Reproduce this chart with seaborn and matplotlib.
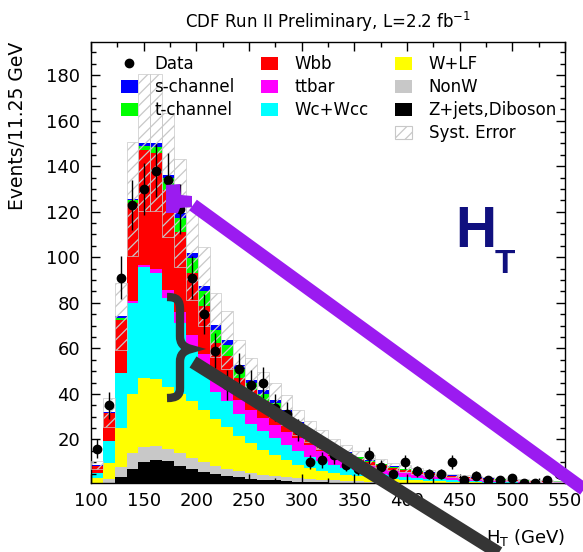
import numpy as np
import pandas as pd
import matplotlib
matplotlib.use("Agg")
import matplotlib.pyplot as plt
from matplotlib.patches import Patch, Polygon, PathPatch
from matplotlib.lines import Line2D
from matplotlib.path import Path
from matplotlib.ticker import MultipleLocator
import seaborn as sns

plt.rcParams["font.family"] = ["DejaVu Sans"]
plt.rcParams["hatch.linewidth"] = 0.9

# ---- binning: 40 bins of 11.25 GeV between 100 and 550 GeV ----
bin_edges = np.linspace(100.0, 550.0, 41)
bin_centers = 0.5 * (bin_edges[:-1] + bin_edges[1:])

# ---- expected events per bin, one array per process ----
zjets_diboson = [0.4, 1.0, 3.6, 7.0, 10.0, 11.0, 10.5, 8.5, 7.0, 5.8,
                 4.8, 4.0, 3.3, 2.8, 2.4, 2.0, 1.7, 1.5, 1.3, 1.1,
                 1.0, 0.9, 0.8, 0.7, 0.6, 0.5, 0.45, 0.4, 0.35, 0.3,
                 0.27, 0.24, 0.21, 0.19, 0.17, 0.15, 0.13, 0.12, 0.11, 0.10]
nonw = [0.6, 1.5, 4.4, 7.0, 6.5, 6.0, 5.5, 5.5, 5.0, 4.4,
        3.7, 3.2, 2.7, 2.4, 2.1, 1.9, 1.7, 1.5, 1.3, 1.2,
        1.0, 0.9, 0.8, 0.7, 0.6, 0.6, 0.55, 0.5, 0.45, 0.4,
        0.35, 0.31, 0.27, 0.24, 0.21, 0.19, 0.17, 0.15, 0.13, 0.12]
w_lf = [2.0, 7.0, 17.0, 26.0, 30.5, 29.5, 27.0, 26.0, 25.0, 22.8,
        20.5, 18.3, 15.5, 13.3, 11.0, 9.1, 7.6, 6.0, 4.9, 4.0,
        3.3, 2.7, 2.3, 2.0, 1.8, 1.6, 1.4, 1.2, 1.05, 0.9,
        0.78, 0.7, 0.62, 0.55, 0.49, 0.43, 0.39, 0.35, 0.31, 0.28]
wc_wcc = [2.4, 9.8, 24.0, 40.0, 48.5, 46.5, 39.3, 31.0, 23.0, 17.5,
          12.0, 11.5, 9.5, 8.2, 8.0, 7.7, 6.7, 6.0, 5.0, 4.2,
          3.5, 3.0, 2.5, 2.1, 1.8, 1.5, 1.3, 1.1, 0.95, 0.85,
          0.75, 0.65, 0.6, 0.52, 0.46, 0.41, 0.37, 0.33, 0.3, 0.28]
ttbar = [0.05, 0.1, 0.3, 0.6, 1.2, 2.0, 3.5, 5.0, 6.0, 7.0,
         7.0, 7.0, 6.5, 6.3, 6.0, 5.8, 5.5, 5.5, 5.0, 4.5,
         4.0, 3.5, 3.1, 2.8, 2.4, 2.1, 1.8, 1.6, 1.4, 1.2,
         1.05, 0.9, 0.8, 0.7, 0.62, 0.54, 0.49, 0.45, 0.4, 0.37]
wbb = [2.85, 12.0, 23.2, 43.4, 50.3, 50.7, 43.8, 35.3, 27.1, 21.1,
       14.4, 12.5, 9.5, 8.5, 7.5, 7.0, 6.3, 4.5, 3.8, 3.2,
       2.7, 2.3, 2.0, 1.7, 1.5, 1.3, 1.2, 1.1, 0.95, 0.85,
       0.75, 0.65, 0.6, 0.5, 0.45, 0.4, 0.37, 0.34, 0.3, 0.3]
t_channel = [0.2, 0.4, 1.0, 1.0, 2.0, 2.9, 5.1, 5.9, 6.5, 6.4,
             5.8, 5.1, 4.0, 3.3, 3.0, 2.5, 2.3, 1.7, 1.5, 1.2,
             1.0, 0.8, 0.7, 0.5, 0.5, 0.4, 0.3, 0.25, 0.2, 0.18,
             0.15, 0.15, 0.12, 0.12, 0.12, 0.11, 0.11, 0.1, 0.09, 0.09]
s_channel = [0.1, 0.2, 0.5, 0.6, 1.3, 1.7, 1.5, 2.2, 2.2, 2.2,
             2.2, 2.2, 1.9, 1.5, 1.5, 1.2, 1.2, 0.8, 0.7, 0.6,
             0.5, 0.4, 0.3, 0.3, 0.2, 0.2, 0.2, 0.15, 0.15, 0.12,
             0.1, 0.1, 0.08, 0.08, 0.08, 0.07, 0.07, 0.06, 0.06, 0.06]

# observed events per bin
data_counts = [16, 35, 91, 123, 130, 138, 134, 121, 91, 75,
               59, 44, 51, 44, 45, 34, 31, 24, 10, 11,
               13, 9, 7, 13, 8, 5, 10, 6, 5, 5,
               10, 2, 4, 2, 2, 3, 1, 1, 2, 5]

# relative systematic uncertainty on the total prediction
SYST_FRAC = 0.20

# process names (top of the stack first) and fill colours
process_names = ["s-channel", "t-channel", "Wbb", "ttbar", "Wc+Wcc",
                 "W+LF", "NonW", "Z+jets,Diboson"]
process_yields = [s_channel, t_channel, wbb, ttbar, wc_wcc,
                  w_lf, nonw, zjets_diboson]
process_colors = ["#0000ff", "#00ff00", "#ff0000", "#ff00ff", "#00ffff",
                  "#ffff00", "#c8c8c8", "#000000"]

df = pd.DataFrame({
    "HT": np.tile(bin_centers, len(process_names)),
    "process": np.repeat(process_names, len(bin_centers)),
    "events": np.concatenate([np.asarray(v, float) for v in process_yields]),
})
total = np.sum([np.asarray(v, float) for v in process_yields], axis=0)
data_arr = np.asarray(data_counts, float)

W, H = 583, 552
fig = plt.figure(figsize=(W / 100, H / 100), dpi=100)
ax = fig.add_axes([0.1561, 0.1255, 0.8130, 0.7984])

sns.histplot(data=df, x="HT", weights="events", hue="process",
             hue_order=process_names,
             palette=dict(zip(process_names, process_colors)),
             multiple="stack", bins=bin_edges.tolist(), element="step",
             fill=True, alpha=1, linewidth=0, legend=False, ax=ax)

# systematic band (hatched)
ax.bar(bin_centers, 2 * SYST_FRAC * total, bottom=(1 - SYST_FRAC) * total,
       width=np.diff(bin_edges), align="center", fill=False, hatch="///",
       edgecolor="#c8c8c8", linewidth=0.5, zorder=3)

# data with Poisson errors
ax.errorbar(bin_centers, data_arr, yerr=np.sqrt(data_arr), fmt="o",
            color="black", markersize=6, elinewidth=1, capsize=0, zorder=5)

ax.set_xlim(100, 550)
ax.set_ylim(1.0, 194.5)
ax.xaxis.set_major_locator(MultipleLocator(50))
ax.xaxis.set_minor_locator(MultipleLocator(25))
ax.yaxis.set_major_locator(MultipleLocator(20))
ax.yaxis.set_minor_locator(MultipleLocator(5))
ax.tick_params(which="both", direction="in", top=True, right=True,
               width=1, labelsize=13)
ax.tick_params(which="major", length=6.5)
ax.tick_params(which="minor", length=3.5)
ax.tick_params(axis="y", pad=8)
ax.tick_params(axis="x", pad=6.5)
for sp in ax.spines.values():
    sp.set_linewidth(1.0)

ax.set_ylabel("Events/11.25 GeV", fontsize=13.5, loc="top")
ax.yaxis.set_label_coords(-0.135, 1.0)
ax.set_xlabel(r"H$_{\rm T}$ (GeV)", fontsize=13, loc="right")
ax.xaxis.set_label_coords(1.0, -0.10)

fig.text(328 / W, 1 - 22 / H, r"CDF Run II Preliminary, L=2.2 fb$^{-1}$",
         ha="center", va="center", fontsize=12)

# legend in three columns
blank = Patch(facecolor="none", edgecolor="none")
handles = [
    Line2D([], [], marker="o", color="black", linestyle="none", markersize=6),
    Patch(facecolor="#0000ff"), Patch(facecolor="#00ff00"), blank,
    Patch(facecolor="#ff0000"), Patch(facecolor="#ff00ff"),
    Patch(facecolor="#00ffff"), blank,
    Patch(facecolor="#ffff00"), Patch(facecolor="#c8c8c8"),
    Patch(facecolor="#000000"),
    Patch(facecolor="white", edgecolor="#c8c8c8", hatch="///", linewidth=0.8),
]
labels = ["Data", "s-channel", "t-channel", "",
          "Wbb", "ttbar", "Wc+Wcc", "",
          "W+LF", "NonW", "Z+jets,Diboson", "Syst. Error"]
ax.legend(handles, labels, ncol=3, loc="upper left",
          bbox_to_anchor=(0.063, 0.97), frameon=False, borderpad=0,
          borderaxespad=0, fontsize=12, handlelength=1.0, handleheight=0.9,
          handletextpad=1.0, columnspacing=1.6, labelspacing=0.3)

# big observable name
fig.text(455 / W, 1 - 247 / H, "H", fontsize=41, fontweight="bold",
         family="Liberation Sans", color="#10107f", ha="left", va="baseline")
fig.text(495 / W, 1 - 273 / H, "T", fontsize=24, fontweight="bold",
         family="Liberation Sans", color="#10107f", ha="left", va="baseline")


def fx(x):
    return x / W


def fy(y):
    return 1 - y / H


# purple pointer
purple = "#9b1bf0"
fig.add_artist(Line2D([fx(193), fx(600)], [fy(205), fy(501)],
                      color=purple, linewidth=9.4, solid_capstyle="butt",
                      transform=fig.transFigure, zorder=10))
blob = [(166, 185), (180, 184), (181, 195), (192, 196), (192, 207),
        (180, 208), (178, 213), (166, 213)]
fig.add_artist(Polygon([(fx(x), fy(y)) for x, y in blob], closed=True,
                       facecolor=purple, edgecolor="none",
                       transform=fig.transFigure, zorder=10))

# dark brace and pointer
dark = "#353535"
brace_pts = [(167, 297), (177, 297), (180, 300), (180, 310),
             (180, 336),
             (180, 343), (183, 347), (191, 349),
             (183, 351), (180, 355), (180, 362),
             (180, 388),
             (180, 395), (177, 398), (167, 398)]
brace_codes = [Path.MOVETO, Path.CURVE4, Path.CURVE4, Path.CURVE4,
               Path.LINETO,
               Path.CURVE4, Path.CURVE4, Path.CURVE4,
               Path.CURVE4, Path.CURVE4, Path.CURVE4,
               Path.LINETO,
               Path.CURVE4, Path.CURVE4, Path.CURVE4]
brace = Path([(fx(x), fy(y)) for x, y in brace_pts], brace_codes)
fig.add_artist(PathPatch(brace, facecolor="none", edgecolor=dark,
                         linewidth=6, capstyle="butt",
                         transform=fig.transFigure, zorder=10))
fig.add_artist(Line2D([fx(193), fx(510)], [fy(362), fy(560)],
                      color=dark, linewidth=9.4, solid_capstyle="butt",
                      transform=fig.transFigure, zorder=10))

fig.savefig("out.png", dpi=100)
